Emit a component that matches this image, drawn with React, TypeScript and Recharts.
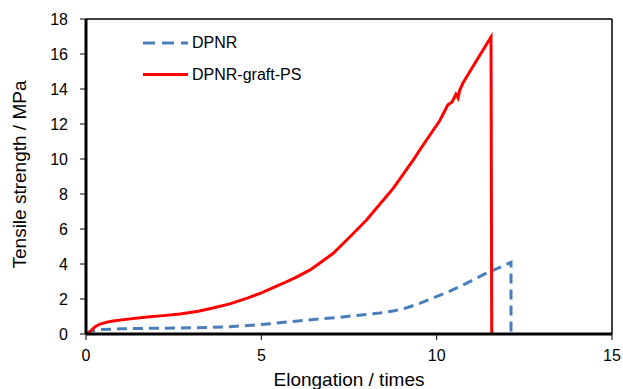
import React from 'react';
import { LineChart, Line, XAxis, YAxis, Legend, ReferenceLine } from 'recharts';

// stress–strain readings, elongation in times, strength in MPa
const graftElongation = [0.06, 0.15, 0.25, 0.4, 0.6, 0.77, 1.2, 1.74, 2.2, 2.68, 3.2, 3.62, 4.1, 4.6, 5.0, 5.63, 6.0, 6.39, 6.7, 7.05, 7.53, 8.0, 8.48, 8.76, 9.33, 9.58, 10.09, 10.32, 10.44, 10.55, 10.61, 10.66, 10.75, 11.1, 11.55, 11.57];
const graftStrength = [0, 0.2, 0.4, 0.57, 0.68, 0.74, 0.85, 0.97, 1.05, 1.14, 1.3, 1.49, 1.72, 2.05, 2.35, 2.9, 3.25, 3.66, 4.1, 4.61, 5.56, 6.51, 7.66, 8.32, 9.94, 10.7, 12.2, 13.1, 13.26, 13.7, 13.49, 13.94, 14.34, 15.5, 16.97, 0];

const dpnrElongation = [0, 0.1, 0.4, 1.0, 2.0, 2.68, 3.5, 4.1, 4.7, 5.33, 6.2, 7.2, 8.38, 8.8, 9.15, 9.5, 9.81, 10.38, 10.86, 11.43, 11.8, 12.12, 12.12];
const dpnrStrength = [0, 0.15, 0.25, 0.3, 0.33, 0.34, 0.37, 0.42, 0.5, 0.6, 0.78, 0.95, 1.2, 1.33, 1.5, 1.74, 1.98, 2.45, 2.91, 3.49, 3.8, 4.1, 0];

const xTicks = [0, 5, 10, 15];
const yTicks = [0, 2, 4, 6, 8, 10, 12, 14, 16, 18];

const toRows = (xs: number[], ys: number[]) => xs.map((x, i) => ({ x, y: ys[i] }));

const graftRows = toRows(graftElongation, graftStrength);
const dpnrRows = toRows(dpnrElongation, dpnrStrength);

const FONT = '"Liberation Sans", Arial, sans-serif';

const LegendBox = ({ payload }: any) => (
  <svg width={200} height={60} style={{ fontFamily: FONT }}>
    {(payload || []).map((p: any, i: number) => (
      <g key={p.value}>
        <line
          x1={3}
          x2={48}
          y1={13 + i * 31.5}
          y2={13 + i * 31.5}
          stroke={p.color}
          strokeWidth={3}
          strokeDasharray={p.payload?.strokeDasharray ? '12 7' : undefined}
        />
        <text x={52} y={18 + i * 31.5} fontSize={16} fill="#000">
          {p.value}
        </text>
      </g>
    ))}
  </svg>
);

const YTitle = ({ viewBox }: any) => {
  const cy = viewBox.y + viewBox.height / 2 - 2;
  return (
    <text
      x={26}
      y={cy}
      transform={`rotate(-90, 26, ${cy})`}
      textAnchor="middle"
      fontSize={19}
      fontFamily={FONT}
      fill="#000"
    >
      Tensile strength / MPa
    </text>
  );
};

const XTitle = ({ viewBox }: any) => (
  <text
    x={viewBox.x + viewBox.width / 2}
    y={386}
    textAnchor="middle"
    fontSize={19}
    fontFamily={FONT}
    fill="#000"
  >
    Elongation / times
  </text>
);

export default function App() {
  return (
    <div style={{ position: 'absolute', left: 0, top: 0, width: 623, height: 389, background: '#fff' }}>
      <LineChart
        width={623}
        height={389}
        margin={{ top: 19, right: 11, bottom: 0, left: 0 }}
        style={{ fontFamily: FONT }}
      >
        <XAxis
          type="number"
          dataKey="x"
          domain={[0, 15]}
          ticks={xTicks}
          allowDataOverflow
          axisLine={{ stroke: '#000', strokeWidth: 3 }}
          tickLine={{ stroke: '#000', strokeWidth: 1 }}
          tickSize={6}
          tickMargin={10}
          tick={{ fill: '#000', fontSize: 16 }}
          height={55}
          label={<XTitle />}
        />
        <YAxis
          type="number"
          domain={[0, 18]}
          ticks={yTicks}
          allowDataOverflow
          axisLine={{ stroke: '#000', strokeWidth: 3 }}
          tickLine={{ stroke: '#000', strokeWidth: 1 }}
          tickSize={6}
          tickMargin={12}
          tick={{ fill: '#000', fontSize: 16 }}
          width={86}
          label={<YTitle />}
        />
        <ReferenceLine y={18} stroke="#000" strokeWidth={1.5} />
        <ReferenceLine x={15} stroke="#000" strokeWidth={1.5} />
        <Legend
          layout="horizontal"
          verticalAlign="middle"
          align="center"
          content={<LegendBox />}
          wrapperStyle={{ left: 140, top: 30, width: 200, height: 60 }}
        />
        <Line
          data={dpnrRows}
          dataKey="y"
          name="DPNR"
          type="linear"
          stroke="#4a7ebb"
          strokeWidth={3}
          strokeDasharray="10 6"
          dot={false}
          isAnimationActive={false}
        />
        <Line
          data={graftRows}
          dataKey="y"
          name="DPNR-graft-PS"
          type="linear"
          stroke="#ff0000"
          strokeWidth={3}
          dot={false}
          isAnimationActive={false}
        />
      </LineChart>
    </div>
  );
}
